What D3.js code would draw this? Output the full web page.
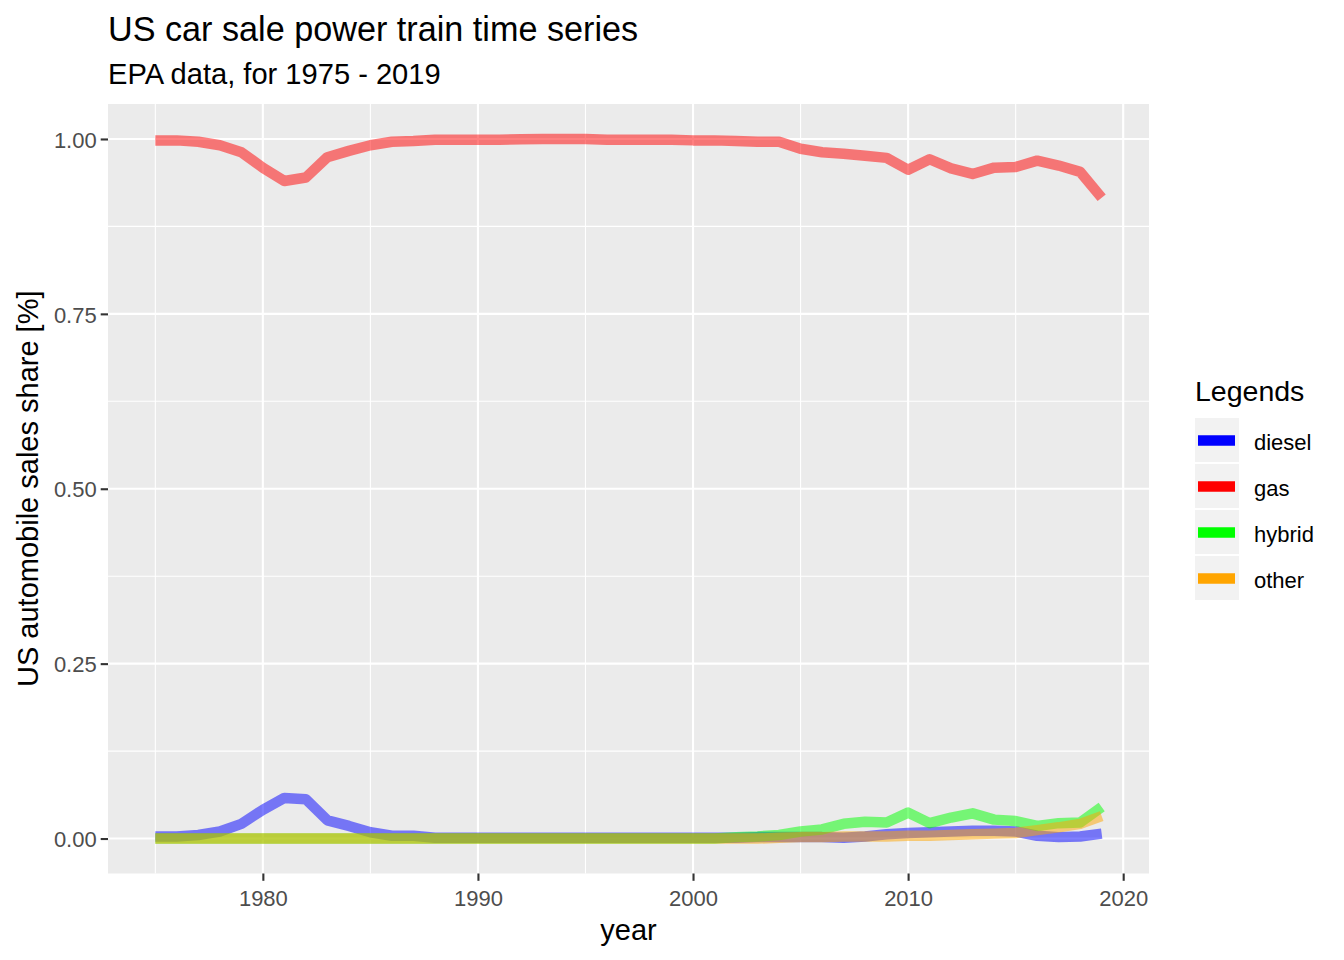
<!DOCTYPE html>
<html>
<head>
<meta charset="utf-8">
<script src="https://cdn.jsdelivr.net/npm/d3@7"></script>
<style>
  html, body { margin: 0; padding: 0; background: #ffffff; }
  svg { display: block; font-family: "Liberation Sans", Arial, sans-serif; }
</style>
</head>
<body>
<div id="chart"></div>
<script>
// --- DATA ---
const years = d3.range(1975, 2020);

const diesel = [
  0.003, 0.003, 0.005, 0.010, 0.021, 0.041, 0.058, 0.056, 0.026, 0.018,
  0.009, 0.004, 0.004, 0.001, 0.001, 0.001, 0.001, 0.001, 0.001, 0.001,
  0.001, 0.001, 0.001, 0.001, 0.001, 0.001, 0.001, 0.001, 0.002, 0.002,
  0.002, 0.002, 0.001, 0.003, 0.006, 0.008, 0.009, 0.010, 0.011, 0.011,
  0.010, 0.004, 0.002, 0.003, 0.007
];

const gas = [
  0.998, 0.998, 0.996, 0.991, 0.981, 0.959, 0.940, 0.945, 0.974, 0.983,
  0.991, 0.996, 0.997, 0.999, 0.999, 0.999, 0.999, 0.9995, 1.000, 1.000,
  1.000, 0.999, 0.999, 0.999, 0.999, 0.998, 0.998, 0.997, 0.996, 0.996,
  0.986, 0.981, 0.979, 0.976, 0.973, 0.956, 0.971, 0.958, 0.950, 0.959,
  0.960, 0.969, 0.962, 0.953, 0.916
];

const hybrid = [
  0, 0, 0, 0, 0, 0, 0, 0, 0, 0,
  0, 0, 0, 0, 0, 0, 0, 0, 0, 0,
  0, 0, 0, 0, 0, 0, 0.000, 0.002, 0.003, 0.005,
  0.010, 0.013, 0.021, 0.024, 0.023, 0.037, 0.022, 0.030, 0.036, 0.027,
  0.025, 0.018, 0.022, 0.023, 0.045
];

const other = [
  0, 0, 0, 0, 0, 0, 0, 0, 0, 0,
  0, 0, 0, 0, 0, 0, 0, 0, 0, 0,
  0, 0, 0, 0, 0, 0, 0, 0, 0, 0.001,
  0.002, 0.002, 0.003, 0.003, 0.003, 0.004, 0.004, 0.005, 0.006, 0.007,
  0.008, 0.012, 0.016, 0.021, 0.032
];

const seriesNames = ["diesel", "gas", "hybrid", "other"];
const seriesValues = [diesel, gas, hybrid, other];
const seriesColors = ["#0000ff", "#ff0000", "#00ff00", "#ffa500"];

const xTicks = [1980, 1990, 2000, 2010, 2020];
const yTicks = [0, 0.25, 0.5, 0.75, 1.0];

// --- SETUP ---
const width = 1344, height = 960;
const panel = { left: 108, right: 1149, top: 104, bottom: 873.5 };

const svg = d3.select("#chart").append("svg")
    .attr("width", width)
    .attr("height", height);

svg.append("rect")
    .attr("width", width)
    .attr("height", height)
    .attr("fill", "#ffffff");

// ggplot-style 5% expansion
const xPad = (2019 - 1975) * 0.05;
const x = d3.scaleLinear()
    .domain([1975 - xPad, 2019 + xPad])
    .range([panel.left, panel.right]);

const y = d3.scaleLinear()
    .domain([-0.05, 1.05])
    .range([panel.bottom, panel.top]);

// --- PANEL & GRID ---
svg.append("rect")
    .attr("x", panel.left)
    .attr("y", panel.top)
    .attr("width", panel.right - panel.left)
    .attr("height", panel.bottom - panel.top)
    .attr("fill", "#ebebeb");

const grid = svg.append("g");
const xMinor = d3.range(1975, 2021, 10);
const yMinor = yTicks.slice(1).map((v, i) => (v + yTicks[i]) / 2);

grid.selectAll(".xminor").data(xMinor).join("line")
    .attr("x1", d => x(d)).attr("x2", d => x(d))
    .attr("y1", panel.top).attr("y2", panel.bottom)
    .attr("stroke", "#ffffff").attr("stroke-width", 1.1);
grid.selectAll(".yminor").data(yMinor).join("line")
    .attr("y1", d => y(d)).attr("y2", d => y(d))
    .attr("x1", panel.left).attr("x2", panel.right)
    .attr("stroke", "#ffffff").attr("stroke-width", 1.1);
grid.selectAll(".xmajor").data(xTicks).join("line")
    .attr("x1", d => x(d)).attr("x2", d => x(d))
    .attr("y1", panel.top).attr("y2", panel.bottom)
    .attr("stroke", "#ffffff").attr("stroke-width", 2.1);
grid.selectAll(".ymajor").data(yTicks).join("line")
    .attr("y1", d => y(d)).attr("y2", d => y(d))
    .attr("x1", panel.left).attr("x2", panel.right)
    .attr("stroke", "#ffffff").attr("stroke-width", 2.1);

// --- LINES ---
const line = d3.line()
    .x((d, i) => x(years[i]))
    .y(d => y(d));

svg.append("g")
    .selectAll("path")
    .data(seriesValues)
    .join("path")
    .attr("d", d => line(d))
    .attr("fill", "none")
    .attr("stroke", (d, i) => seriesColors[i])
    .attr("stroke-opacity", 0.5)
    .attr("stroke-width", 10.5)
    .attr("stroke-linejoin", "round")
    .attr("stroke-linecap", "butt");

// --- AXES ---
const xAxis = svg.append("g")
    .attr("transform", `translate(0,${panel.bottom})`)
    .call(d3.axisBottom(x).tickValues(xTicks).tickFormat(d3.format("d"))
        .tickSize(7.3).tickPadding(5));
const yAxis = svg.append("g")
    .attr("transform", `translate(${panel.left},0)`)
    .call(d3.axisLeft(y).tickValues(yTicks).tickFormat(d3.format(".2f"))
        .tickSize(7.3).tickPadding(4));

[xAxis, yAxis].forEach(a => {
    a.select(".domain").remove();
    a.selectAll(".tick line").attr("stroke", "#333333").attr("stroke-width", 2.1);
    a.selectAll(".tick text")
        .attr("fill", "#4d4d4d")
        .attr("font-size", 22)
        .attr("font-family", "'Liberation Sans', Arial, sans-serif");
});
xAxis.selectAll(".tick text").attr("dy", "0.9em");
yAxis.selectAll(".tick text").attr("dy", "0.37em");

// --- TITLES ---
svg.append("text")
    .attr("x", panel.left).attr("y", 41)
    .attr("font-size", 34.2).attr("fill", "#000")
    .text("US car sale power train time series");
svg.append("text")
    .attr("x", panel.left).attr("y", 84)
    .attr("font-size", 29.1).attr("fill", "#000")
    .text("EPA data, for 1975 - 2019");
svg.append("text")
    .attr("x", (panel.left + panel.right) / 2).attr("y", 940)
    .attr("text-anchor", "middle")
    .attr("font-size", 29).attr("fill", "#000")
    .text("year");
svg.append("text")
    .attr("transform", `translate(38,${(panel.top + panel.bottom) / 2}) rotate(-90)`)
    .attr("text-anchor", "middle")
    .attr("font-size", 29).attr("fill", "#000")
    .text("US automobile sales share [%]");

// --- LEGEND ---
const legend = svg.append("g").attr("transform", "translate(1195,0)");
legend.append("text")
    .attr("x", 0).attr("y", 401)
    .attr("font-size", 28.5).attr("fill", "#000")
    .text("Legends");

const key = legend.selectAll(".key")
    .data(seriesNames)
    .join("g")
    .attr("transform", (d, i) => `translate(0,${418 + i * 46})`);
key.append("rect")
    .attr("x", 0).attr("y", 0)
    .attr("width", 44).attr("height", 44)
    .attr("fill", "#f2f2f2");
key.append("line")
    .attr("x1", 3).attr("x2", 40)
    .attr("y1", 22.5).attr("y2", 22.5)
    .attr("stroke", (d, i) => seriesColors[i])
    .attr("stroke-width", 10.5);
key.append("text")
    .attr("x", 59).attr("y", 24.5)
    .attr("dy", "0.35em")
    .attr("font-size", 22).attr("fill", "#000")
    .text(d => d);
</script>
</body>
</html>
